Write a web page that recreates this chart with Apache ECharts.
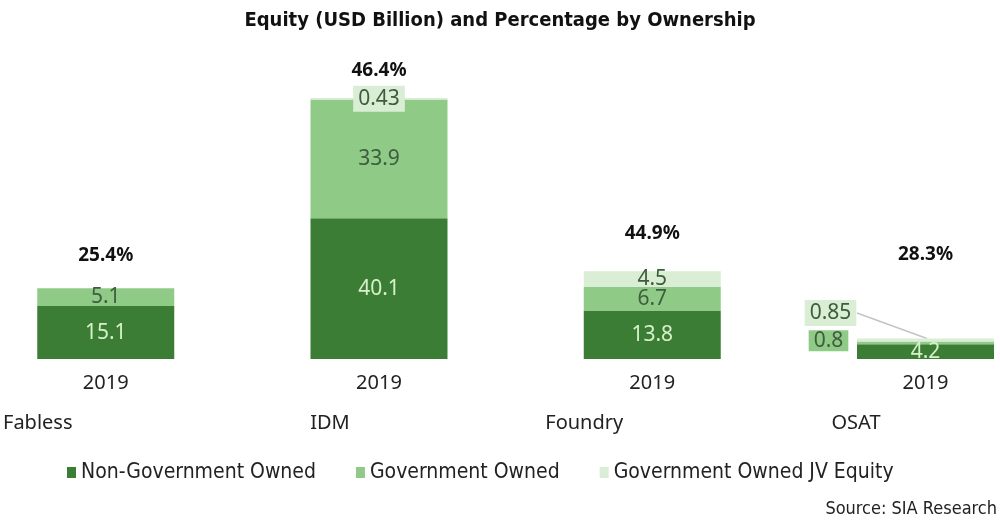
<!DOCTYPE html>
<html><head><meta charset="utf-8">
<script src="https://cdn.jsdelivr.net/npm/echarts@6/dist/echarts.min.js"></script>
<style>html,body{margin:0;padding:0;background:#fff}#c{width:1000px;height:524px}</style>
</head><body><div id="c"></div>
<script>
// ---- data ----
const groups = ['Fabless', 'IDM', 'Foundry', 'OSAT'];
const years = ['2019', '2019', '2019', '2019'];
const nonGov = [15.1, 40.1, 13.8, 4.2];
const gov = [5.1, 33.9, 6.7, 0.8];
const govJV = [null, 0.43, 4.5, 0.85];
const govShare = ['25.4%', '46.4%', '44.9%', '28.3%'];
const seriesNames = ['Non-Government Owned', 'Government Owned', 'Government Owned JV Equity'];

// ---- styles ----
const C_DARK = '#3b7d35', C_MID = '#8fcb87', C_LIGHT = '#d9eed4';
const pctLift = [23, 18, 28, 74];
const groupShift = [136, 98, 136, 139];
const BODY = "'Noto Sans', 'Open Sans', sans-serif";
const COND = "'DejaVu Sans Condensed', 'DejaVu Sans', sans-serif";

const chart = echarts.init(document.getElementById('c'));
const baseLabel = { show: true, position: 'inside', fontFamily: BODY, fontSize: 21 };

const JV_DX = -95, JV_DY = -27;

chart.setOption({
  animation: false,
  backgroundColor: '#fff',
  title: {
    text: 'Equity (USD Billion) and Percentage by Ownership',
    left: 'center', top: 6,
    textStyle: { fontFamily: COND, fontSize: 20, fontWeight: 'bold', color: '#111' }
  },
  legend: {
    data: seriesNames,
    left: 62, top: 457,
    itemWidth: 9, itemHeight: 11, itemGap: 40,
    icon: 'rect',
    textStyle: { fontFamily: COND, fontSize: 21, color: '#222' }
  },
  grid: { left: 105.5, right: 74.5, top: 78.4, bottom: 165 },
  xAxis: [{
    type: 'category', data: years, boundaryGap: false,
    axisLine: { show: false }, axisTick: { show: false },
    axisLabel: { fontFamily: BODY, fontSize: 20, color: '#222', margin: 14, interval: 0 }
  }, {
    type: 'category', data: groups, position: 'bottom', offset: 46, boundaryGap: false,
    axisLine: { show: false }, axisTick: { show: false },
    axisLabel: {
      interval: 0, margin: 8,
      formatter: (v, i) => '{g' + i + '|' + v + '}',
      rich: Object.fromEntries(groupShift.map((p, i) => ['g' + i, { fontFamily: BODY, fontSize: 20, color: '#222', padding: [0, p, 0, 0] }]))
    }
  }],
  yAxis: { type: 'value', min: 0, max: 80, show: false, splitLine: { show: false } },
  series: [
    {
      name: seriesNames[0], type: 'bar', stack: 'eq', barWidth: 137, data: nonGov,
      itemStyle: { color: C_DARK },
      label: Object.assign({}, baseLabel, { color: '#d6f1c9' })
    },
    {
      name: seriesNames[1], type: 'bar', stack: 'eq',
      itemStyle: { color: C_MID },
      label: Object.assign({}, baseLabel, { color: '#3e5c3e' }),
      labelLayout: p => p.dataIndex === 3 ? { dx: -97, dy: -2 } : {},
      data: gov.map((v, i) => i === 3
        ? { value: v, label: { backgroundColor: C_MID, padding: [0, 5, 0, 5] } }
        : v)
    },
    {
      name: seriesNames[2], type: 'bar', stack: 'eq',
      itemStyle: { color: C_LIGHT },
      label: Object.assign({}, baseLabel, { color: '#3e5c3e' }),
      labelLayout: p => p.dataIndex === 3 ? { dx: JV_DX, dy: JV_DY } : {},
      data: govJV.map((v, i) => (i === 1 || i === 3)
        ? { value: v, label: { backgroundColor: C_LIGHT, padding: [3, 5, 2, 5] } }
        : (v === null ? '-' : v))
    },
    {
      name: 'share', type: 'bar', stack: 'eq',
      data: govShare.map((s, i) => ({ value: 0, label: { distance: pctLift[i] } })),
      itemStyle: { color: 'transparent' },
      label: {
        show: true, position: 'top',
        formatter: p => govShare[p.dataIndex],
        fontFamily: BODY, fontSize: 19, fontWeight: 'bold', color: '#111'
      },
      tooltip: { show: false }
    }
  ]
});

// leader line from the moved OSAT JV label to the top of the OSAT bar
const osatTop = nonGov[3] + gov[3] + govJV[3];
const end = chart.convertToPixel({ xAxisIndex: 0, yAxisIndex: 0 }, [3, osatTop]);
chart.setOption({
  graphic: [{
    type: 'text', right: 3, top: 500,
    style: { text: 'Source: SIA Research', font: "18px 'DejaVu Sans Condensed', 'DejaVu Sans', sans-serif", fill: '#222' }
  }, {
    type: 'line', z: 1,
    shape: { x1: end[0] - 68.5, y1: end[1] - 25.5, x2: end[0] + 1.5, y2: end[1] },
    style: { stroke: '#c4c4c4', lineWidth: 1.5 }
  }]
});
</script></body></html>
